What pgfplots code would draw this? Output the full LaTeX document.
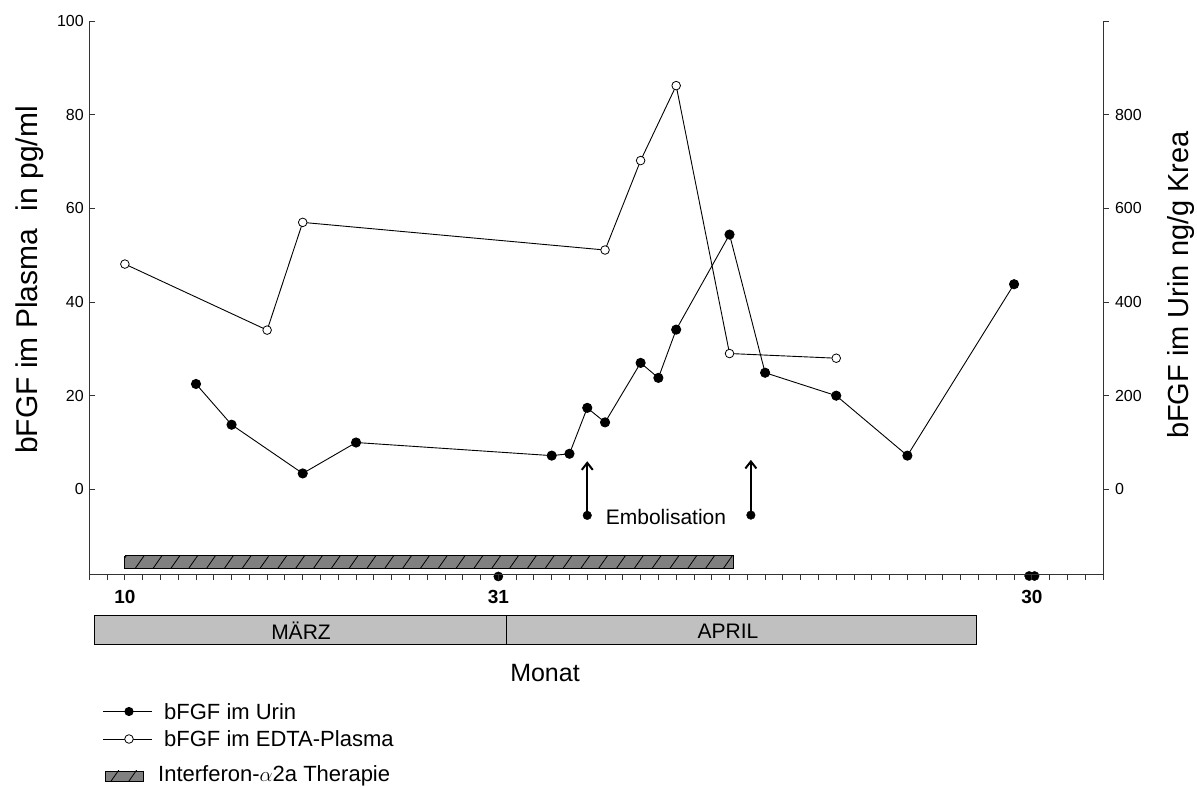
\documentclass[border=0pt]{standalone}
\usepackage{pgfplots}
\pgfplotsset{compat=1.18}
\usepackage{fontspec}
\setmainfont{Liberation Sans}
\usetikzlibrary{patterns.meta,arrows.meta}
\definecolor{monthgray}{HTML}{C0C0C0}
\definecolor{hatchgray}{HTML}{808080}

\begin{document}
\begin{tikzpicture}[x=1pt,y=1pt]
\path[use as bounding box] (0,0) rectangle (1197,787);

\pgfplotsset{every axis/.append style={
  scale only axis, width=1013.7pt, height=553.5pt,
  at={(89.3pt,212.5pt)}, anchor=south west,
  xmin=8, xmax=65, clip=false,
  /pgf/number format/assume math mode=true,
  tick label style={font=\fontsize{16}{18}\selectfont},
  major tick length=5.5pt, minor tick length=5.5pt,
  axis line style={line width=1pt, black!80},
  every tick/.style={black!80, line width=0.9pt},
}}

% ---------- left axis: plasma ----------
\begin{axis}[
  ymin=-18.18, ymax=100,
  axis y line*=left, axis x line=none,
  ytick={0,20,40,60,80,100},
  tick align=inside,
  yticklabel style={xshift=-2pt},
]
\addplot[draw=black, line width=0.8pt, fill=hatchgray,
  postaction={pattern={Lines[angle=55,distance=14.6pt,line width=0.8pt]}, pattern color=black}]
  coordinates {(10,-14.2) (44.2,-14.2) (44.2,-16.9) (10,-16.9) (10,-14.2)};

\addplot[black, line width=0.9pt, mark=*, mark size=4.3pt,
  mark options={fill=white, line width=0.8pt}] table {
x y
10 48.1
18 34.0
20 57.0
37 51.1
39 70.2
41 86.2
44 29.0
50 28.0
};

% Embolisation arrows
\addplot[black, line width=2pt, -{Straight Barb[length=7pt,width=11pt,line width=2pt]}]
  coordinates {(36,-5.56) (36,6.0)};
\addplot[black, line width=2pt, -{Straight Barb[length=7pt,width=11pt,line width=2pt]}]
  coordinates {(45.2,-5.5) (45.2,6.3)};
\addplot[only marks, mark=*, mark size=4.3pt, black] coordinates {(36,-5.56) (45.2,-5.5)};

% dots on the time axis
\addplot[only marks, mark=*, mark size=4.6pt, black] coordinates {(31,-18.6) (60.85,-18.5) (61.15,-18.5)};
\end{axis}

% ---------- right axis: urine ----------
\begin{axis}[
  ymin=-181.8, ymax=1000,
  axis y line*=right, axis x line*=bottom,
  ytick={0,200,400,600,800,1000},
  yticklabels={0,200,400,600,800,{}},
  yticklabel style={xshift=3pt},
  tick align=outside,
  xtick={10,31,61},
  xticklabels={10,31,30},
  minor xtick={8,...,65},
  xticklabel style={font=\fontsize{19}{21}\selectfont\bfseries, yshift=-7pt},
]
\addplot[black, line width=0.9pt, mark=*, mark size=4.6pt] table {
x y
14 225
16 138
20 34
23 100
34 72
35 76
36 174
37 143
39 270
40 238
41 341
44 544
46 249
50 200
54 72
60 438
};
\end{axis}

% ---------- annotations in pixel coordinates ----------
\begin{scope}[shift={(0,787)}, y=-1pt]
\node[rotate=90, font=\fontsize{30}{34}\selectfont] at (30,280) {bFGF im Plasma\hspace{0.3em} in pg/ml};
\node[rotate=90, font=\fontsize{29}{33}\selectfont] at (1181,285) {bFGF im Urin ng/g Krea};
\node[font=\fontsize{21}{25}\selectfont] at (666,517) {Embolisation};

\draw[line width=1pt, fill=monthgray] (94,616) rectangle (506,645);
\draw[line width=1pt, fill=monthgray] (506,616) rectangle (976,645);
\node[font=\fontsize{21}{25}\selectfont] at (301,631) {MÄRZ};
\node[font=\fontsize{21}{25}\selectfont] at (728,631) {APRIL};

\node[font=\fontsize{25}{30}\selectfont] at (545,673) {Monat};

% legend
\draw[line width=0.9pt] (103,711.5) -- (152,711.5);
\fill (129,711.5) circle (4.6);
\node[anchor=west, inner sep=0pt, font=\fontsize{22}{26}\selectfont] at (164,711.5) {bFGF im Urin};
\draw[line width=0.9pt] (103,739) -- (152,739);
\draw[line width=0.8pt, fill=white] (129,739) circle (4.3);
\node[anchor=west, inner sep=0pt, font=\fontsize{22}{26}\selectfont] at (164,739) {bFGF im EDTA-Plasma};
\draw[line width=0.8pt, fill=hatchgray,
  postaction={pattern={Lines[angle=55,distance=14.6pt,line width=0.8pt]}, pattern color=black}]
  (105,771) rectangle (143,781);
\node[anchor=west, inner sep=0pt, font=\fontsize{22}{26}\selectfont] at (158,776) {Interferon-$\alpha$2a Therapie};
\end{scope}
\end{tikzpicture}
\end{document}
